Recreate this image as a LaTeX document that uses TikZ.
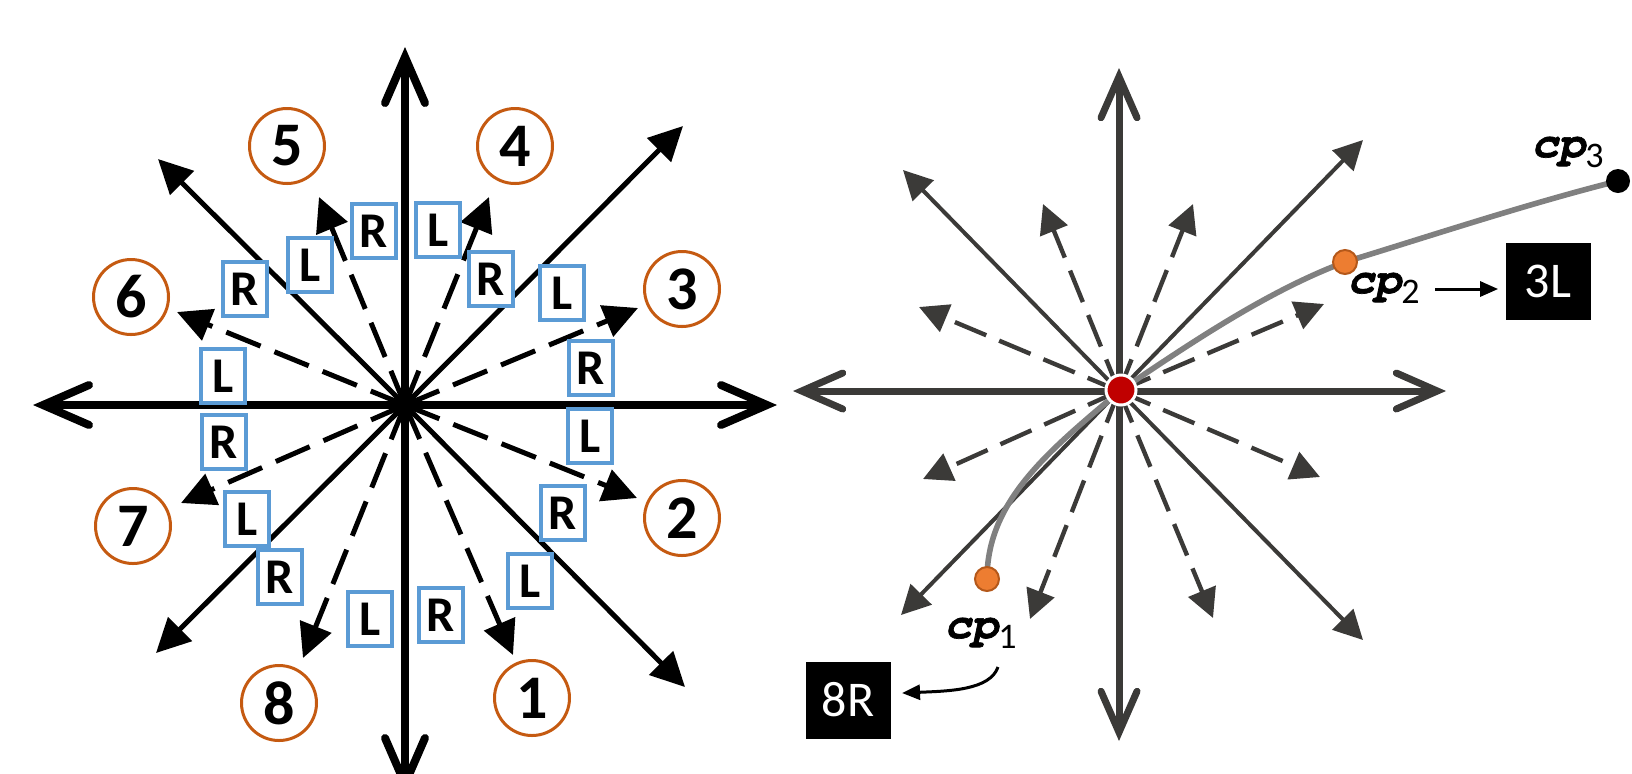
\documentclass[tikz,border=0pt]{standalone}
\usepackage{fontspec}
\setmainfont{Carlito}
\newfontfamily\cpfont{texgyrecursor-bolditalic.otf}[FakeBold=1.5]
\usetikzlibrary{arrows.meta,calc}
\definecolor{boxblue}{HTML}{5B9BD5}
\definecolor{ringorange}{HTML}{C55A11}
\definecolor{axisgray}{HTML}{3B3A38}
\definecolor{dotred}{HTML}{C00000}
\definecolor{dotorange}{HTML}{ED7D31}
\definecolor{dotedge}{HTML}{B4581A}
\definecolor{trailgray}{HTML}{808080}
\newcommand{\cplabel}[1]{{\cpfont cp}\raisebox{-5pt}{\fontsize{18pt}{18pt}\selectfont #1}}
\begin{document}
\begin{tikzpicture}[x=0.5pt,y=-0.5pt,
  barbA/.tip={Straight Barb[length=23pt,width=20pt,line cap=round]},
  barbB/.tip={Straight Barb[length=20.5pt,width=18pt,line cap=round]},
  bigaxis/.style={line width=4pt,barbA-barbA},
  diag/.style={line width=2.5pt,-{Triangle[length=17pt,width=16.5pt]}},
  dashdiag/.style={diag,dash pattern=on 18.5pt off 7.5pt},
  axis2/.style={axisgray,line width=3.5pt,barbB-barbB},
  diag2/.style={axisgray,line width=2pt,-{Triangle[length=14.5pt,width=14.5pt]}},
  dash2/.style={diag2,line width=2.2pt,dash pattern=on 17pt off 7pt},
  lbox/.style={draw=boxblue,line width=2pt,fill=white,minimum width=22pt,minimum height=27pt,
    inner sep=0pt,font=\fontsize{25pt}{25pt}\selectfont\bfseries},
  numc/.style={circle,draw=ringorange,line width=1.5pt,fill=white,minimum size=37.5pt,
    inner sep=0pt,font=\fontsize{31pt}{31pt}\selectfont\bfseries},
  blk/.style={fill=black,text=white,minimum width=42.5pt,minimum height=38.5pt,inner sep=0pt,
    font=\fontsize{25pt}{25pt}\selectfont},
  trail/.style={trailgray,line width=2.8pt,line cap=round},
  cpdot/.style={circle,fill=dotorange,draw=dotedge,line width=1pt,minimum size=12pt,inner sep=0pt},
  enddot/.style={circle,fill=black,minimum size=12pt,inner sep=0pt},
  origin/.style={circle,fill=dotred,draw=white,line width=1.5pt,minimum size=15pt,inner sep=0pt},
  cplbl/.style={inner sep=0pt,font=\fontsize{22.5pt}{22.5pt}\selectfont},
  pointer/.style={line width=1.5pt,-{Triangle[length=9pt,width=7.5pt]}}
]
\useasboundingbox (0,0) rectangle (1632,773);
\clip (0,0) rectangle (1632,773);

% ---------- left rose: eight directions with L/R sides ----------
\coordinate (O) at (405,405);
\coordinate (axN) at (405,47);
\coordinate (axS) at (405,794);
\coordinate (axW) at (33,405);
\coordinate (axE) at (777,405);
\draw[bigaxis] (axS) -- (axN);
\draw[bigaxis] (axW) -- (axE);

\foreach \n/\x/\y in {NE/683/126,NW/158/159,SW/156/653,SE/685/687}
  \coordinate (t\n) at (\x,\y);
\foreach \n in {NE,NW,SW,SE}
  \draw[diag] (O) -- (t\n);

\foreach \n/\x/\y in {1/513/655,2/637/498,3/638/308,4/489/197,5/319/197,6/177/312,7/181/503,8/303/658}
  \coordinate (d\n) at (\x,\y);
\foreach \n in {1,...,8}
  \draw[dashdiag] (O) -- (d\n);

\foreach \n/\x/\y in {1/532/698,2/682/518,3/682/289,4/515/146,5/287/146,6/131/297,7/133/526,8/279/703}
  \node[numc] (n\n) at (\x,\y) {\n};

\foreach \n/\t/\x/\y in {R5/R/374/231,L5/L/310/265,R6/R/245/289,L6/L/223/376,
    R7/R/224/442,L7/L/247/519,R8/R/280/577,L8/L/370/619,
    R1/R/441/615,L1/L/530/581,R2/R/563/513,L2/L/590/436,
    R3/R/591/368,L3/L/562/293,R4/R/491/279,L4/L/438/230}
  \node[lbox] (b\n) at (\x,\y) {\t};

% ---------- right rose: a sample path through control points ----------
\coordinate (P) at (1119,391);
\coordinate (qN) at (1119,68);
\coordinate (qS) at (1119,741);
\coordinate (qW) at (793,391);
\coordinate (qE) at (1446,391);
\draw[axis2] (qS) -- (qN);
\draw[axis2] (qW) -- (qE);

\foreach \n/\x/\y in {NE/1363/140,NW/903/170,SW/901/615,SE/1363/640}
  \coordinate (u\n) at (\x,\y);
\foreach \n in {NE,NW,SW,SE}
  \draw[diag2] (P) -- (u\n);

\foreach \n/\x/\y in {a/1193/204,b/1043/204,c/1324/304,d/919/307,e/1320/477,f/923/479,g/1213/618,h/1030/619}
  \coordinate (v\n) at (\x,\y);
\foreach \n in {a,b,c,d,e,f,g,h}
  \draw[dash2] (P) -- (v\n);

% positions first, the path is drawn under the dots
\coordinate (k1) at (987,579);
\coordinate (k2) at (1345,262);
\coordinate (k3) at (1618,181);
\coordinate (k0) at (1121,390);
\draw[trail] (k0) .. controls (1195,340) and (1270,290) .. (k2)
  .. controls (1430,236) and (1530,203) .. (k3);
\draw[trail] (k0) .. controls (1050,450) and (987,500) .. (k1);

\node[cpdot] (cp1) at (k1) {};
\node[cpdot] (cp2) at (k2) {};
\node[enddot] (cp3) at (k3) {};
\node[origin] (od) at (k0) {};

\node[cplbl,anchor=base west] (cp1lbl) at (944,638) {\cplabel{1}};
\node[cplbl,anchor=base west] (cp2lbl) at (1347,293) {\cplabel{2}};
\node[cplbl,anchor=base west] (cp3lbl) at (1531,157) {\cplabel{3}};

\node[blk] (b3L) at (1548,281) {3L};
\node[blk] (b8R) at (848,700) {8R};

\coordinate (a3s) at (1435,289);
\draw[pointer,shorten >=3.5pt] (a3s) -- (a3s -| b3L.west);
\coordinate (a8s) at (998,667);
\coordinate (a8e) at (902,693);
\draw[pointer] (a8s) .. controls (990,690) and (950,691) .. (a8e);
\end{tikzpicture}
\end{document}
